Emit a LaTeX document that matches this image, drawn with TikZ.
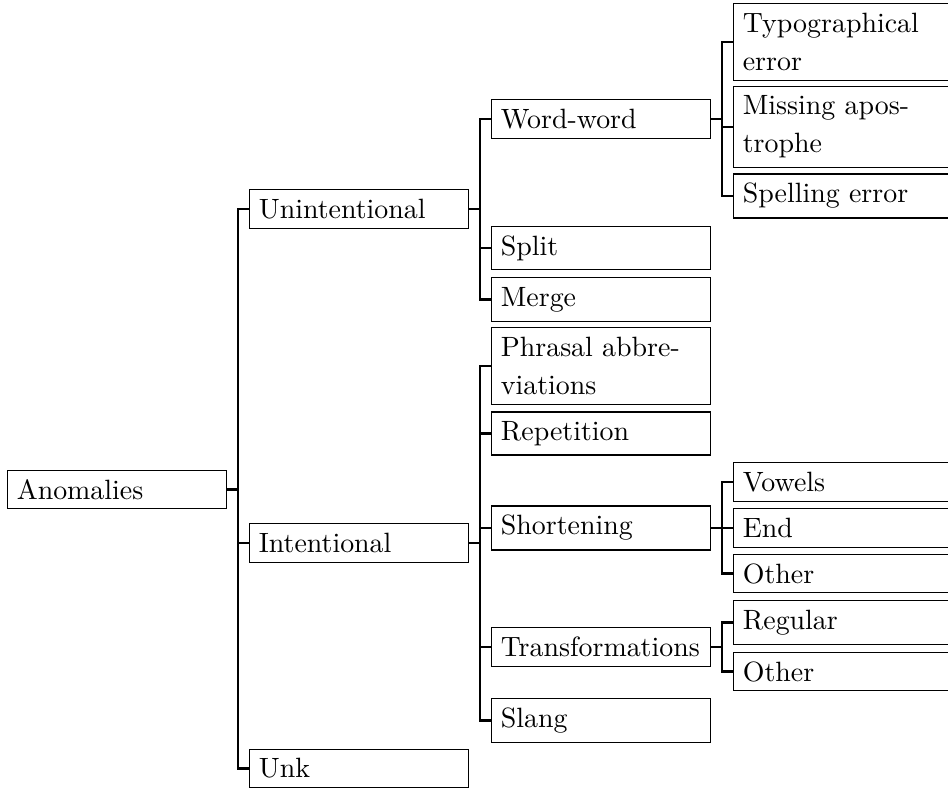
\documentclass[tikz,border=0pt]{standalone}
\begin{document}
\begin{tikzpicture}[x=0.35842pt,y=-0.35842pt,
  box/.style={draw,line width=0.4pt,inner sep=3.33pt,text width=71.8pt,align=left,anchor=west,font=\fontsize{10}{13.6}\selectfont},
  edge/.style={line width=0.8pt}]
\useasboundingbox (0,0) rectangle (948,789);
% level 0
\node[box] (anom) at (7,489.5) {Anomalies};
% level 1
\node[box] (unint) at (249,209) {Unintentional};
\node[box] (intent) at (249,543) {Intentional};
\node[box] (unk) at (249,768.5) {Unk};
% level 2
\node[box] (ww) at (491,119) {Word-word};
\node[box] (split) at (491,248) {Split};
\node[box] (merge) at (491,299.5) {Merge};
\node[box] (phrasal) at (491,366) {Phrasal abbre-\\viations};
\node[box] (rep) at (491,433.5) {Repetition};
\node[box] (short) at (491,528) {Shortening};
\node[box] (trans) at (491,647) {Transformations};
\node[box] (slang) at (491,720.5) {Slang};
% level 3
\node[box] (typo) at (733,42) {Typographical\\error};
\node[box] (miss) at (733,127) {Missing apos-\\trophe};
\node[box] (spell) at (733,196) {Spelling error};
\node[box] (vow) at (733,482) {Vowels};
\node[box] (end) at (733,528) {End};
\node[box] (oth1) at (733,573.5) {Other};
\node[box] (reg) at (733,622.5) {Regular};
\node[box] (oth2) at (733,671.5) {Other};
% fork points
\path (anom.east) ++(11,0) coordinate (f0);
\path (unint.east) ++(11,0) coordinate (f1);
\path (intent.east) ++(11,0) coordinate (f2);
\path (ww.east) ++(11,0) coordinate (f3);
\path (short.east) ++(11,0) coordinate (f4);
\path (trans.east) ++(11,0) coordinate (f5);
% edges
\foreach \c in {unint,intent,unk}{\draw[edge] (anom.east) -- (f0) |- (\c.west);}
\foreach \c in {ww,split,merge}{\draw[edge] (unint.east) -- (f1) |- (\c.west);}
\foreach \c in {phrasal,rep,short,trans,slang}{\draw[edge] (intent.east) -- (f2) |- (\c.west);}
\foreach \c in {typo,miss,spell}{\draw[edge] (ww.east) -- (f3) |- (\c.west);}
\foreach \c in {vow,end,oth1}{\draw[edge] (short.east) -- (f4) |- (\c.west);}
\foreach \c in {reg,oth2}{\draw[edge] (trans.east) -- (f5) |- (\c.west);}
\end{tikzpicture}
\end{document}
